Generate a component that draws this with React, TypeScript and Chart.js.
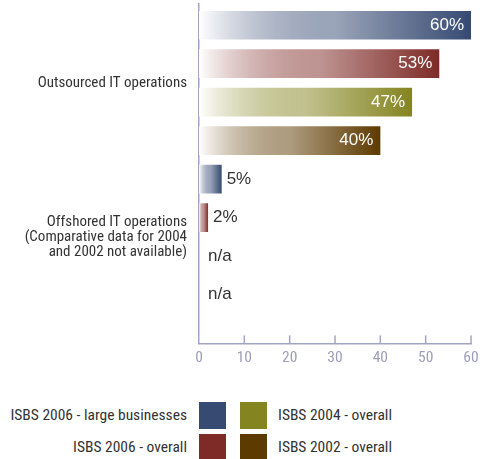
import React, { useEffect, useRef } from "react";
import { Chart, registerables } from "chart.js";

Chart.register(...registerables);

const categories: (string | string[])[] = [
  "Outsourced IT operations",
  ["Offshored IT operations", "(Comparative data for 2004", "and 2002 not available)"],
];
const seriesNames = [
  "ISBS 2006 - large businesses",
  "ISBS 2006 - overall",
  "ISBS 2004 - overall",
  "ISBS 2002 - overall",
];
const large2006 = [60, 5];
const overall2006 = [53, 2];
const overall2004: (number | null)[] = [47, null];
const overall2002: (number | null)[] = [40, null];
const seriesValues = [large2006, overall2006, overall2004, overall2002];
const seriesColors = ["#364a72", "#7e2b27", "#848420", "#5d3a00"];
const xTicks = [0, 10, 20, 30, 40, 50, 60];

const FONT = "'Liberation Sans Narrow', 'Arial Narrow', 'Roboto Condensed', Roboto, sans-serif";
const AXIS_COLOR = "#a3a3c2";

function hexToRgba(hex: string, a: number) {
  const n = parseInt(hex.slice(1), 16);
  return `rgba(${(n >> 16) & 255},${(n >> 8) & 255},${n & 255},${a})`;
}

const labelPlugin = {
  id: "valueLabels",
  afterDatasetsDraw(chart: any) {
    const ctx = chart.ctx;
    const xs = chart.scales.x;
    const ys = chart.scales.y;
    ctx.save();
    ctx.font = "17px 'Liberation Sans', Arial, sans-serif";
    ctx.textBaseline = "middle";
    chart.data.datasets.forEach((ds: any) => {
      ds.data.forEach((pt: any) => {
        const y = ys.getPixelForValue(pt.y);
        if (pt.x === null || pt.x === undefined) {
          ctx.fillStyle = "#333333";
          ctx.textAlign = "left";
          ctx.fillText("n/a", xs.getPixelForValue(0) + 9, y);
        } else if (pt.x >= 10) {
          ctx.fillStyle = "#ffffff";
          ctx.textAlign = "right";
          ctx.fillText(pt.x + "%", xs.getPixelForValue(pt.x) - 7, y);
        } else {
          ctx.fillStyle = "#333333";
          ctx.textAlign = "left";
          ctx.fillText(pt.x + "%", xs.getPixelForValue(pt.x) + 5, y);
        }
      });
    });
    ctx.restore();
  },
};

const innerTicksPlugin = {
  id: "innerTicks",
  afterDraw(chart: any) {
    const ctx = chart.ctx;
    const xs = chart.scales.x;
    const bottom = chart.chartArea.bottom;
    ctx.save();
    ctx.strokeStyle = AXIS_COLOR;
    ctx.lineWidth = 1.5;
    xTicks.forEach((t) => {
      if (t === 0) return;
      const x = xs.getPixelForValue(t);
      ctx.beginPath();
      ctx.moveTo(x, bottom - 8);
      ctx.lineTo(x, bottom);
      ctx.stroke();
    });
    ctx.restore();
  },
};

export default function App() {
  const canvasRef = useRef<HTMLCanvasElement>(null);

  useEffect(() => {
    if (!canvasRef.current) return;
    const datasets = seriesValues.map((vals, j) => ({
      label: seriesNames[j],
      data: vals.map((v, i) => ({ x: v, y: i * 4 + j + 1 })),
      backgroundColor: (c: any) => {
        const chart = c.chart;
        const color = seriesColors[j];
        if (!chart.chartArea || c.type !== "data" || c.raw == null || c.raw.x == null) return color;
        const xs = chart.scales.x;
        const x0 = xs.getPixelForValue(0);
        const x1 = xs.getPixelForValue(c.raw.x);
        const g = chart.ctx.createLinearGradient(x0, 0, x1, 0);
        g.addColorStop(0, "#ffffff");
        g.addColorStop(0.5, hexToRgba(color, 0.5));
        g.addColorStop(1, color);
        return g;
      },
      borderWidth: 0,
      barPercentage: 0.744,
      categoryPercentage: 1,
      grouped: false,
    }));

    const chart = new Chart(canvasRef.current, {
      type: "bar",
      data: { datasets },
      options: {
        indexAxis: "y",
        animation: false,
        responsive: false,
        layout: { padding: { top: 4, right: 18, bottom: 18, left: 0 } },
        plugins: { legend: { display: false }, tooltip: { enabled: false } },
        scales: {
          x: {
            type: "linear",
            min: 0,
            max: 60,
            afterBuildTicks: (s: any) => {
              s.ticks = xTicks.map((v) => ({ value: v }));
            },
            grid: { display: false, drawTicks: false },
            border: { display: true, color: AXIS_COLOR, width: 1.5 },
            ticks: {
              color: "#9d9dbd",
              font: { family: FONT, size: 15.5 },
              padding: 5,
            },
          },
          y: {
            type: "linear",
            reverse: true,
            offset: false,
            min: 0.449,
            max: 9.269,
            afterBuildTicks: (s: any) => {
              s.ticks = [{ value: 2.5 }, { value: 6.5 }];
            },
            afterFit: (s: any) => {
              s.width = 199;
              s.paddingTop = 0;
              s.paddingBottom = 0;
            },
            grid: { display: false, drawTicks: false, offset: false },
            border: { display: true, color: AXIS_COLOR, width: 1.5 },
            ticks: {
              autoSkip: false,
              color: "#333333",
              font: { family: FONT, size: 15, lineHeight: "15px" },
              padding: 12,
              callback: (v: any) => (v === 2.5 ? categories[0] : categories[1]) as any,
            },
          },
        },
      },
      plugins: [labelPlugin, innerTicksPlugin],
    });
    return () => chart.destroy();
  }, []);

  const legendText: React.CSSProperties = {
    position: "absolute",
    font: `15.5px ${FONT}`,
    color: "#333333",
    lineHeight: "27px",
    whiteSpace: "nowrap",
  };
  const box = (left: number, top: number, color: string): React.CSSProperties => ({
    position: "absolute",
    left,
    top,
    width: 27,
    height: 27,
    background: color,
  });

  return (
    <div style={{ position: "fixed", left: 0, top: 0, width: 489, height: 459, background: "#fff", overflow: "hidden" }}>
      <canvas ref={canvasRef} width={489} height={390} style={{ position: "absolute", left: 0, top: 0 }} />
      <div style={{ ...legendText, left: 0, width: 187, textAlign: "right", top: 402 }}>{seriesNames[0]}</div>
      <div style={box(199, 402, seriesColors[0])} />
      <div style={box(240, 402, seriesColors[2])} />
      <div style={{ ...legendText, left: 278, top: 402 }}>{seriesNames[2]}</div>
      <div style={{ ...legendText, left: 0, width: 187, textAlign: "right", top: 434 }}>{seriesNames[1]}</div>
      <div style={box(199, 434, seriesColors[1])} />
      <div style={box(240, 434, seriesColors[3])} />
      <div style={{ ...legendText, left: 278, top: 434 }}>{seriesNames[3]}</div>
    </div>
  );
}
